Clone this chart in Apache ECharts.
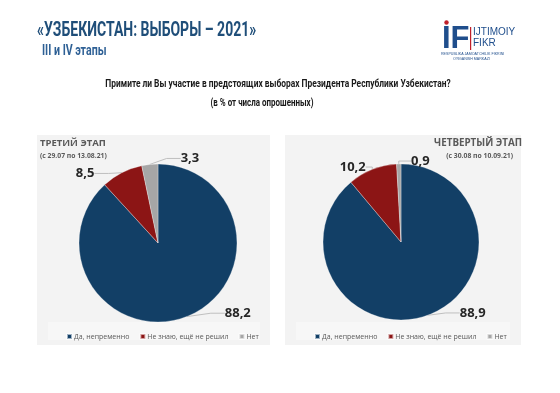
<!DOCTYPE html>
<html><head><meta charset="utf-8">
<script src="https://cdn.jsdelivr.net/npm/echarts@6/dist/echarts.min.js"></script>
<style>html,body{margin:0;padding:0;background:#fff}#c{width:560px;height:393px}</style>
</head><body><div id="c"></div>
<script>
const categories = ['Да, непременно', 'Не знаю, ещё не решил', 'Нет'];
const stage3Values = [88.2, 8.5, 3.3];
const stage4Values = [88.9, 10.2, 0.9];
const colors = ['#123f66', '#8c1515', '#a6a6a6'];
const mainTitle = '«УЗБЕКИСТАН: ВЫБОРЫ – 2021»';
const subTitle = 'III и IV этапы';
const question = 'Примите ли Вы участие в предстоящих выборах Президента Республики Узбекистан?';
const unitNote = '(в % от числа опрошенных)';
const panels = [
  {title: 'ТРЕТИЙ ЭТАП', period: '(с 29.07 по 13.08.21)'},
  {title: 'ЧЕТВЕРТЫЙ ЭТАП', period: '(с 30.08 по 10.09.21)'}
];

const narrow = '"Roboto", sans-serif';
const sans = '"Open Sans", "Noto Sans", sans-serif';

const chart = echarts.init(document.getElementById('c'), null, {renderer: 'canvas'});

function pieSeries(values, center, radius, shifts) {
  return {
    type: 'pie',
    center: center,
    radius: radius,
    startAngle: 90,
    clockwise: true,
    silent: true,
    data: categories.map((n, i) => ({name: n, value: values[i], itemStyle: {color: colors[i]}})),
    itemStyle: {borderColor: 'rgba(255,255,255,0.6)', borderWidth: 0.5},
    label: {
      show: true, position: 'outside',
      formatter: p => String(p.value).replace('.', ','),
      fontFamily: sans, fontWeight: 'bold', fontSize: 13, color: '#262626'
    },
    labelLine: {show: true, length: 6, length2: 14, lineStyle: {color: '#bfbfbf', width: 1}},
    labelLayout: function (p) {
      const s = shifts[p.dataIndex];
      const r = p.labelRect;
      return {x: r.x + s[0], y: r.y + r.height / 2 + s[1], align: 'left', verticalAlign: 'middle'};
    }
  };
}

const legendCommon = {
  data: categories, orient: 'horizontal', itemWidth: 5, itemHeight: 5, itemGap: 10,
  icon: 'rect', textStyle: {fontFamily: sans, fontSize: 7, color: '#595959', padding: [0, 0, 0, -3]}, selectedMode: false
};

chart.setOption({
  backgroundColor: '#ffffff',
  animation: false,
  graphic: [
    {type: 'rect', shape: {x: 37, y: 135, width: 233, height: 210}, style: {fill: '#f3f3f3'}, z: -10},
    {type: 'rect', shape: {x: 285, y: 135, width: 236, height: 210}, style: {fill: '#f3f3f3'}, z: -10},
    {type: 'rect', shape: {x: 48, y: 322, width: 212, height: 18}, style: {fill: '#f7f7f7'}, z: -9},
    {type: 'rect', shape: {x: 296, y: 322, width: 214, height: 18}, style: {fill: '#f7f7f7'}, z: -9},
    {type: 'text', x: 37, y: 21, scaleX: 0.7, style: {text: mainTitle, fontFamily: narrow, fontWeight: 'bold', fontSize: 20, fill: '#1f4e79'}},
    {type: 'text', x: 42, y: 44, scaleX: 0.76, style: {text: subTitle, fontFamily: narrow, fontWeight: 'bold', fontSize: 14, fill: '#2e6095'}},
    {type: 'text', x: 278, y: 79, scaleX: 0.8, style: {text: question, textAlign: 'center', fontFamily: narrow, fontWeight: 'bold', fontSize: 10.5, fill: '#1a1a1a'}},
    {type: 'text', x: 262, y: 98, scaleX: 0.76, style: {text: unitNote, textAlign: 'center', fontFamily: narrow, fontWeight: 'bold', fontSize: 10.5, fill: '#1a1a1a'}},
    {type: 'text', left: 40, top: 138, style: {text: panels[0].title, fontFamily: sans, fontWeight: 'bold', fontSize: 9.5, fill: '#595959'}},
    {type: 'text', left: 40, top: 153, style: {text: panels[0].period, fontFamily: sans, fontWeight: 'bold', fontSize: 6.8, fill: '#595959'}},
    {type: 'text', right: 38, top: 138, style: {text: panels[1].title, fontFamily: sans, fontWeight: 'bold', fontSize: 9.8, fill: '#595959'}},
    {type: 'text', right: 47, top: 153, style: {text: panels[1].period, fontFamily: sans, fontWeight: 'bold', fontSize: 6.8, fill: '#595959'}},
    // logo
    {type: 'text', left: 442, top: 24, style: {text: 'IF', fontFamily: '"Liberation Sans", sans-serif', fontWeight: 'bold', fontSize: 31, fill: '#1f4e8c'}},
    {type: 'circle', shape: {cx: 446.5, cy: 22.5, r: 2.2}, style: {fill: '#c0202a'}},
    {type: 'rect', shape: {x: 470, y: 27, width: 1.2, height: 23}, style: {fill: '#c0202a'}},
    {type: 'text', left: 473, top: 27, style: {text: 'IJTIMOIY', fontFamily: '"Liberation Sans", sans-serif', fontSize: 10, fill: '#1f4e8c'}},
    {type: 'text', left: 473, top: 38, style: {text: 'FIKR', fontFamily: '"Liberation Sans", sans-serif', fontSize: 10, fill: '#1f4e8c'}},
    {type: 'text', left: 441, top: 52, style: {text: 'RESPUBLIKA JAMOATCHILIK FIKRINI', fontFamily: '"Liberation Sans", sans-serif', fontSize: 3.6, fill: '#1f4e8c'}},
    {type: 'text', left: 453, top: 56.5, style: {text: "O'RGANISH MARKAZI", fontFamily: '"Liberation Sans", sans-serif', fontSize: 3.6, fill: '#1f4e8c'}}
  ],
  legend: [
    Object.assign({left: 61, top: 328}, legendCommon),
    Object.assign({left: 309, top: 328}, legendCommon)
  ],
  series: [
    pieSeries(stage3Values, [158, 243], 79, [[17, -9], [0, 0], [69, 0]]),
    pieSeries(stage4Values, [401, 242], 78, [[11, -8], [27, -6], [50, 3]])
  ]
});
</script></body></html>
